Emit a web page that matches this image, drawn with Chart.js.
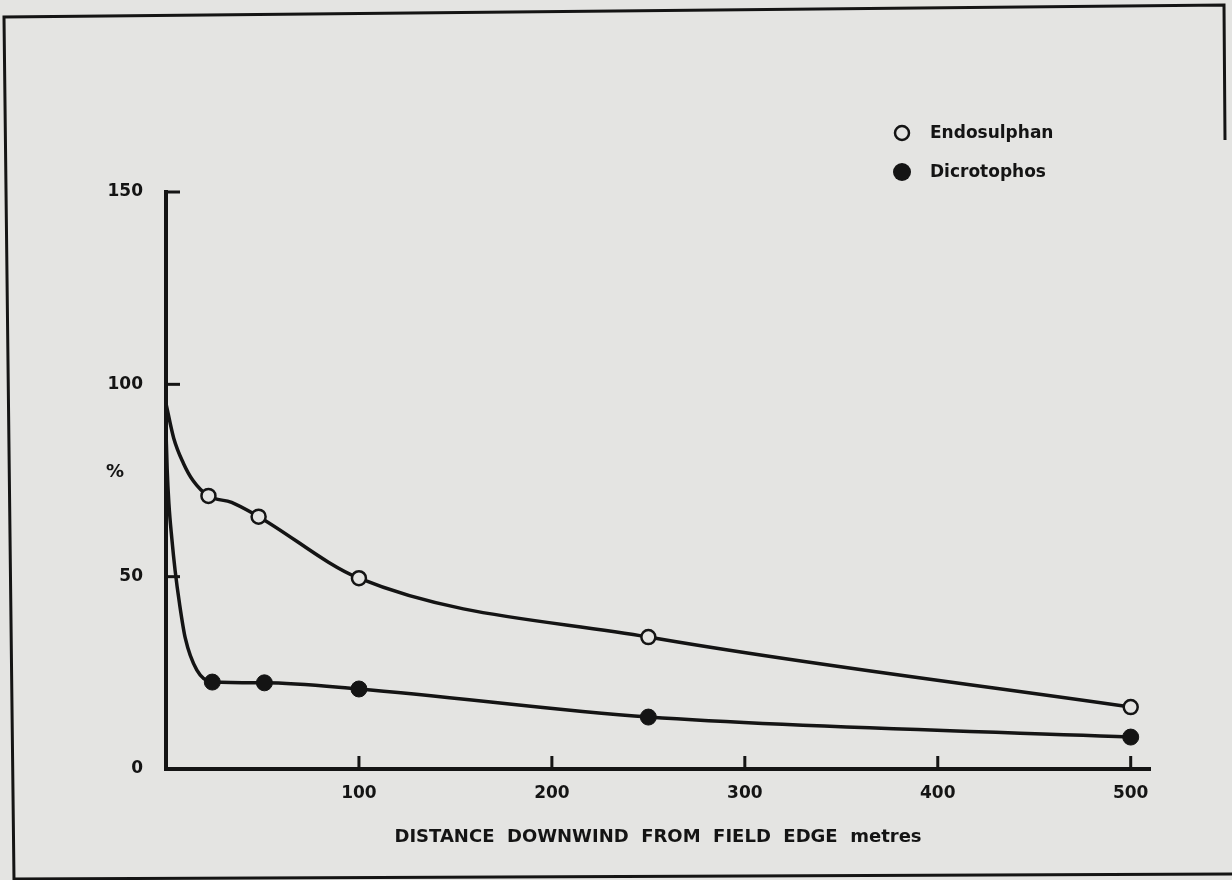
<!DOCTYPE html>
<html>
<head>
<meta charset="utf-8">
<script src="https://cdn.jsdelivr.net/npm/chart.js@4.4.1/dist/chart.umd.min.js"></script>
<style>
  html, body { margin: 0; padding: 0; background: #e4e4e2; }
  #wrap { width: 1232px; height: 880px; position: relative; }
</style>
</head>
<body>
<div id="wrap"><canvas id="c" width="1232" height="880"></canvas></div>
<script>
// ---- Data ----
const xTickValues = [100, 200, 300, 400, 500];
const yTickValues = [0, 50, 100, 150];
const yTickMarks = [50, 100, 150];

// Endosulphan: traced curve (distance m, %) and measured (marked) distances
const endoCurveX = [0, 4, 9, 14, 22, 34, 48, 100, 250, 500];
const endoCurveY = [95, 86, 79.5, 75, 71, 69.3, 65.6, 49.6, 34.3, 16.1];
const endoMarkedX = [22, 48, 100, 250, 500];

// Dicrotophos: traced curve and measured (marked) distances
const dicroCurveX = [0, 0.6, 1.5, 3, 4.7, 7, 10, 16, 24, 51, 100, 250, 500];
const dicroCurveY = [88, 78, 69, 60, 51.7, 43, 34, 25.7, 22.6, 22.4, 20.8, 13.5, 8.3];
const dicroMarkedX = [24, 51, 100, 250, 500];

const seriesNames = ['Endosulphan', 'Dicrotophos'];
const xTitle = 'DISTANCE  DOWNWIND  FROM  FIELD  EDGE  metres';
const yTitle = '%';

// ---- Styling ----
const BG = '#e4e4e2';
const INK = '#141414';
const FONT = '"DejaVu Sans", sans-serif';

function pts(xs, ys) { return xs.map((x, i) => ({ x: x, y: ys[i] })); }

const decor = {
  id: 'decor',
  beforeDraw(chart) {
    const ctx = chart.ctx;
    ctx.save();
    ctx.fillStyle = BG;
    ctx.fillRect(0, 0, chart.width, chart.height);
    // photographed frame
    ctx.strokeStyle = INK;
    ctx.lineWidth = 3;
    ctx.beginPath();
    ctx.moveTo(14, 880); ctx.lineTo(4, 17); ctx.lineTo(1224, 5); ctx.lineTo(1225, 140);
    ctx.stroke();
    ctx.beginPath();
    ctx.moveTo(14, 879); ctx.lineTo(1232, 874);
    ctx.stroke();
    ctx.restore();
  },
  afterDraw(chart) {
    const ctx = chart.ctx;
    const xs = chart.scales.x, ys = chart.scales.y;
    const area = chart.chartArea;
    ctx.save();
    ctx.strokeStyle = INK;
    ctx.lineWidth = 3;
    // inward ticks on y axis
    yTickMarks.forEach(v => {
      const py = ys.getPixelForValue(v);
      ctx.beginPath(); ctx.moveTo(area.left, py); ctx.lineTo(area.left + 14, py); ctx.stroke();
    });
    // upward ticks on x axis
    xTickValues.forEach(v => {
      const px = xs.getPixelForValue(v);
      ctx.beginPath(); ctx.moveTo(px, area.bottom); ctx.lineTo(px, area.bottom - 13); ctx.stroke();
    });
    // y title
    ctx.fillStyle = INK;
    ctx.font = 'bold 18px ' + FONT;
    ctx.textAlign = 'center';
    ctx.textBaseline = 'middle';
    ctx.fillText(yTitle, 115, ys.getPixelForValue(77));
    // legend
    const ds = chart.data.datasets;
    const lx = 902, ly = [133, 172];
    ds.forEach((d, i) => {
      ctx.beginPath();
      ctx.arc(lx, ly[i], i === 0 ? 7 : 9, 0, Math.PI * 2);
      ctx.fillStyle = d.pointBackgroundColor;
      ctx.fill();
      if (i === 0) { ctx.lineWidth = 2.5; ctx.strokeStyle = INK; ctx.stroke(); }
      ctx.fillStyle = INK;
      ctx.textAlign = 'left';
      ctx.textBaseline = 'middle';
      ctx.font = 'bold 17px ' + FONT;
      ctx.fillText(d.label, 930, ly[i] + 1);
    });
    ctx.restore();
  }
};

new Chart(document.getElementById('c'), {
  type: 'line',
  data: {
    datasets: [
      {
        label: seriesNames[0],
        data: pts(endoCurveX, endoCurveY),
        borderColor: INK,
        borderWidth: 3.5,
        cubicInterpolationMode: 'monotone',
        pointRadius: c => endoMarkedX.includes(c.raw.x) ? 7 : 0,
        pointBackgroundColor: BG,
        pointBorderColor: INK,
        pointBorderWidth: 2.5,
        pointHoverRadius: 0
      },
      {
        label: seriesNames[1],
        data: pts(dicroCurveX, dicroCurveY),
        borderColor: INK,
        borderWidth: 3.5,
        cubicInterpolationMode: 'monotone',
        pointRadius: c => dicroMarkedX.includes(c.raw.x) ? 8 : 0,
        pointBackgroundColor: INK,
        pointBorderColor: INK,
        pointBorderWidth: 1,
        pointHoverRadius: 0
      }
    ]
  },
  options: {
    responsive: false,
    animation: false,
    events: [],
    layout: { padding: { left: 0, right: 82, top: 192, bottom: 28 } },
    plugins: { legend: { display: false }, tooltip: { enabled: false } },
    scales: {
      x: {
        type: 'linear',
        min: 0,
        max: 510,
        afterBuildTicks: s => { s.ticks = xTickValues.map(v => ({ value: v })); },
        afterFit: s => { s.height = 83; },
        grid: { display: false, drawTicks: false },
        border: { display: true, color: INK, width: 4 },
        ticks: { color: INK, font: { family: FONT, size: 17, weight: 'bold' }, padding: 14, maxRotation: 0 },
        title: { display: true, text: xTitle, color: INK, font: { family: FONT, size: 18, weight: 'bold' }, padding: { top: 10 } }
      },
      y: {
        min: 0,
        max: 150,
        afterBuildTicks: s => { s.ticks = yTickValues.map(v => ({ value: v })); },
        afterFit: s => { s.width = 166; },
        grid: { display: false, drawTicks: false },
        border: { display: true, color: INK, width: 4 },
        ticks: { color: INK, font: { family: FONT, size: 17, weight: 'bold' }, padding: 23 }
      }
    }
  },
  plugins: [decor]
});
</script>
</body>
</html>
